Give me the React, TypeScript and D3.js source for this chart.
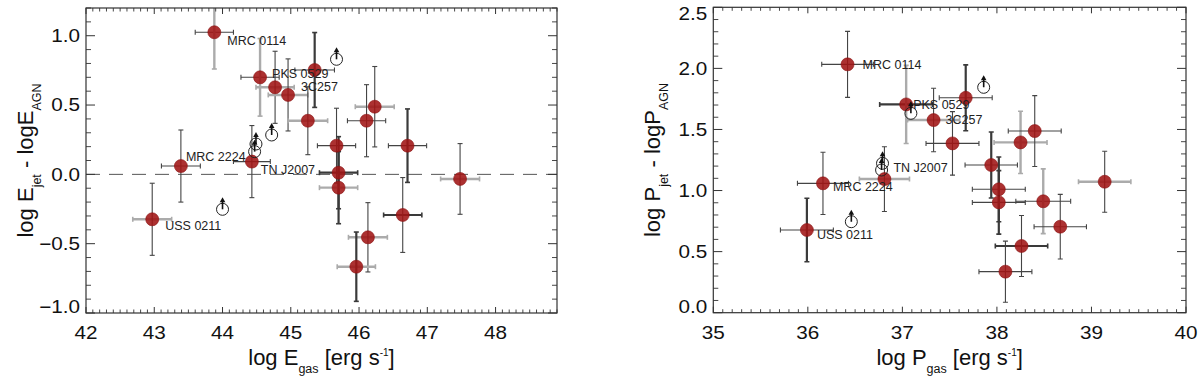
import React from 'react';
import * as d3 from 'd3';

// ---------- Left panel: log E_gas vs log E_jet - log E_AGN ----------
const leftX = [43.88, 44.55, 44.77, 44.96, 45.35, 45.25, 46.23, 46.11, 45.67, 45.70, 45.70, 46.71, 47.48, 46.64, 46.13, 45.96, 43.39, 44.43, 42.97];
const leftY = [1.025, 0.70, 0.628, 0.573, 0.753, 0.387, 0.488, 0.387, 0.207, 0.012, -0.096, 0.207, -0.033, -0.293, -0.454, -0.666, 0.06, 0.092, -0.324];
const leftXErr = [0.28, 0.28, 0.28, 0.29, 0.29, 0.29, 0.285, 0.28, 0.28, 0.28, 0.28, 0.28, 0.285, 0.28, 0.285, 0.28, 0.285, 0.27, 0.285];
const leftYErr = [0.265, 0.28, 0.26, 0.26, 0.27, 0.245, 0.29, 0.26, 0.27, 0.26, 0.26, 0.265, 0.255, 0.27, 0.25, 0.25, 0.26, 0.26, 0.26];
const leftLimX = [44.0, 44.49, 44.47, 44.72, 45.67];
const leftLimY = [-0.252, 0.219, 0.164, 0.284, 0.83];
const leftLabelNames = ['MRC 0114', 'PKS 0529', '3C257', 'MRC 2224', 'TN J2007', 'USS 0211'];
const leftLabelIdx = [0, 1, 3, 16, 17, 18];

// ---------- Right panel: log P_gas vs log P_jet - log P_AGN ----------
const rightX = [36.42, 37.04, 37.33, 37.67, 37.53, 37.94, 38.25, 38.40, 39.14, 38.02, 38.02, 38.49, 38.67, 38.26, 38.09, 36.16, 36.81, 35.99];
const rightY = [2.033, 1.705, 1.577, 1.759, 1.386, 1.209, 1.394, 1.487, 1.072, 1.01, 0.903, 0.912, 0.704, 0.546, 0.336, 1.059, 1.094, 0.677];
const rightXErr = [0.273, 0.28, 0.275, 0.28, 0.28, 0.277, 0.28, 0.28, 0.277, 0.28, 0.28, 0.29, 0.277, 0.277, 0.28, 0.27, 0.265, 0.28];
const rightYErr = [0.27, 0.32, 0.26, 0.27, 0.26, 0.27, 0.255, 0.29, 0.25, 0.265, 0.26, 0.265, 0.265, 0.25, 0.25, 0.255, 0.265, 0.26];
const rightLimX = [36.46, 36.79, 36.78, 37.09, 37.86];
const rightLimY = [0.745, 1.223, 1.168, 1.632, 1.845];
const rightLabelNames = ['MRC 0114', 'PKS 0529', '3C257', 'MRC 2224', 'TN J2007', 'USS 0211'];
const rightLabelIdx = [0, 1, 2, 15, 16, 17];

// ---------- styling (kept apart from data) ----------
const leftXTone = ['d', 'd', 'g', 'g', 'd', 'g', 'g', 'd', 'd', 'D', 'g', 'd', 'g', 'D', 'g', 'g', 'd', 'd', 'g'];
const leftYTone = ['g', 'g', 'd', 'd', 'D', 'd', 'd', 'd', 'd', 'D', 'D', 'D', 'd', 'd', 'd', 'D', 'd', 'd', 'd'];
const rightXTone = ['d', 'D', 'g', 'd', 'd', 'd', 'g', 'd', 'g', 'd', 'd', 'd', 'd', 'D', 'd', 'd', 'g', 'd'];
const rightYTone = ['d', 'g', 'd', 'D', 'd', 'D', 'g', 'd', 'd', 'D', 'D', 'g', 'd', 'd', 'd', 'd', 'd', 'D'];
const leftLabelOff = [[13, 8], [12, -4], [13, -8], [5, -9], [9, 8], [13, 6]];
const rightLabelOff = [[15, 0], [7, 0], [12, 0], [10, 3], [9, -11], [10, 5]];

const FONT = '"Liberation Sans", Arial, Helvetica, sans-serif';
const TONES: Record<string, { c: string; w: number }> = {
  d: { c: '#444', w: 1.1 },
  D: { c: '#3a3a3a', w: 2.2 },
  g: { c: '#ababab', w: 2.4 },
};

type Cfg = {
  id: string;
  left: number; right: number; top: number; bottom: number;
  xDomain: [number, number]; yDomain: [number, number];
  xs: number[]; ys: number[]; xe: number[]; ye: number[];
  xt: string[]; yt: string[];
  limX: number[]; limY: number[];
  labelNames: string[]; labelIdx: number[]; labelOff: number[][];
  sym: string; dashedZero: boolean;
};

function Panel({ c }: { c: Cfg }) {
  const x = d3.scaleLinear().domain(c.xDomain).range([c.left, c.right]);
  const y = d3.scaleLinear().domain(c.yDomain).range([c.bottom, c.top]);
  const [x0, x1] = c.xDomain;
  const [y0, y1] = c.yDomain;
  const xMajor = d3.range(Math.ceil(x0), Math.floor(x1 + 1e-9) + 1);
  const xMinor = d3.range(Math.ceil(x0 * 10 - 1e-9), Math.floor(x1 * 10 + 1e-9) + 1).filter(i => i % 10 !== 0).map(i => i / 10);
  const yMajor = d3.range(Math.ceil(y0 * 2 - 1e-9), Math.floor(y1 * 2 + 1e-9) + 1).map(i => i / 2);
  const yMinor = d3.range(Math.ceil(y0 * 10 - 1e-9), Math.floor(y1 * 10 + 1e-9) + 1).filter(i => i % 5 !== 0).map(i => i / 10);
  const axisC = '#333';
  const cx = (c.left + c.right) / 2;
  const cy = (c.top + c.bottom) / 2;
  const cap = 2.5;
  return (
    <g>
      <defs>
        <clipPath id={`clip-${c.id}`}>
          <rect x={c.left} y={c.top} width={c.right - c.left} height={c.bottom - c.top} />
        </clipPath>
      </defs>
      {c.dashedZero && (
        <line x1={c.left} x2={c.right} y1={y(0)} y2={y(0)} stroke="#555" strokeWidth={1} strokeDasharray="14 9" />
      )}
      <g clipPath={`url(#clip-${c.id})`}>
        {c.xs.map((v, i) => {
          const tx = TONES[c.xt[i]];
          const ty = TONES[c.yt[i]];
          const px = x(v), py = y(c.ys[i]);
          const xa = x(v - c.xe[i]), xb = x(v + c.xe[i]);
          const ya = y(c.ys[i] - c.ye[i]), yb = y(c.ys[i] + c.ye[i]);
          return (
            <g key={i}>
              <g stroke={tx.c} strokeWidth={tx.w}>
                <line x1={xa} x2={xb} y1={py} y2={py} />
                <line x1={xa} x2={xa} y1={py - cap} y2={py + cap} strokeWidth={Math.min(tx.w, 1.6)} />
                <line x1={xb} x2={xb} y1={py - cap} y2={py + cap} strokeWidth={Math.min(tx.w, 1.6)} />
              </g>
              <g stroke={ty.c} strokeWidth={ty.w}>
                <line x1={px} x2={px} y1={ya} y2={yb} />
                <line x1={px - cap} x2={px + cap} y1={ya} y2={ya} strokeWidth={Math.min(ty.w, 1.6)} />
                <line x1={px - cap} x2={px + cap} y1={yb} y2={yb} strokeWidth={Math.min(ty.w, 1.6)} />
              </g>
            </g>
          );
        })}
        {c.xs.map((v, i) => (
          <circle key={`p${i}`} cx={x(v)} cy={y(c.ys[i])} r={6.5} fill="#a01414" fillOpacity={0.88} stroke="#8a1010" strokeWidth={0.6} />
        ))}
        {c.limX.map((v, i) => {
          const px = x(v), py = y(c.limY[i]);
          return (
            <g key={`l${i}`}>
              <circle cx={px} cy={py} r={6} fill="none" stroke="#222" strokeWidth={1} />
              <line x1={px} x2={px} y1={py} y2={py - 8} stroke="#111" strokeWidth={1.6} />
              <path d={`M${px - 2.8},${py - 7} L${px + 2.8},${py - 7} L${px},${py - 12} Z`} fill="#111" />
            </g>
          );
        })}
      </g>
      {c.labelNames.map((name, k) => {
        const i = c.labelIdx[k];
        const [dx, dy] = c.labelOff[k];
        return (
          <text key={`t${k}`} x={x(c.xs[i]) + dx} y={y(c.ys[i]) + dy} dy="0.35em" fontFamily={FONT} fontSize={12.5} fill="#222">{name}</text>
        );
      })}
      {/* frame */}
      <rect x={c.left} y={c.top} width={c.right - c.left} height={c.bottom - c.top} fill="none" stroke={axisC} strokeWidth={1.2} />
      {/* x ticks */}
      {xMajor.map(v => (
        <g key={`xm${v}`} stroke={axisC} strokeWidth={1}>
          <line x1={x(v)} x2={x(v)} y1={c.bottom} y2={c.bottom - 6} />
          <line x1={x(v)} x2={x(v)} y1={c.top} y2={c.top + 6} />
        </g>
      ))}
      {xMinor.map(v => (
        <g key={`xn${v}`} stroke={axisC} strokeWidth={0.9}>
          <line x1={x(v)} x2={x(v)} y1={c.bottom} y2={c.bottom - 3.5} />
          <line x1={x(v)} x2={x(v)} y1={c.top} y2={c.top + 3.5} />
        </g>
      ))}
      {yMajor.map(v => (
        <g key={`ym${v}`} stroke={axisC} strokeWidth={1}>
          <line x1={c.left} x2={c.left + 9} y1={y(v)} y2={y(v)} />
          <line x1={c.right} x2={c.right - 9} y1={y(v)} y2={y(v)} />
        </g>
      ))}
      {yMinor.map(v => (
        <g key={`yn${v}`} stroke={axisC} strokeWidth={0.9}>
          <line x1={c.left} x2={c.left + 5} y1={y(v)} y2={y(v)} />
          <line x1={c.right} x2={c.right - 5} y1={y(v)} y2={y(v)} />
        </g>
      ))}
      {/* tick labels */}
      {xMajor.map(v => (
        <text key={`xl${v}`} transform={`translate(${x(v)},${c.bottom + 26}) scale(1.15,1)`} textAnchor="middle" fontFamily={FONT} fontSize={18} fill="#111">{d3.format('d')(v)}</text>
      ))}
      {yMajor.map(v => {
        const py = Math.max(c.top + 6, Math.min(c.bottom - 6, y(v)));
        return (
          <text key={`yl${v}`} transform={`translate(${c.left - 6},${py}) scale(1.15,1)`} dy="0.35em" textAnchor="end" fontFamily={FONT} fontSize={18} fill="#111">{d3.format('.1f')(v)}</text>
        );
      })}
      {/* axis titles */}
      <text x={cx} y={365} textAnchor="middle" fontFamily={FONT} fontSize={22} fill="#111">
        <tspan>{`log ${c.sym}`}</tspan>
        <tspan dy={8} fontSize={12.5}>gas</tspan>
        <tspan dy={-8}>{' [erg s'}</tspan>
        <tspan dy={-9} fontSize={10}>-1</tspan>
        <tspan dy={9}>]</tspan>
      </text>
      <text transform={`translate(${c.left - 53},${cy}) rotate(-90)`} textAnchor="middle" fontFamily={FONT} fontSize={22} fill="#111">
        <tspan>{`log ${c.sym}`}</tspan>
        <tspan dy={8} fontSize={12.5}>jet</tspan>
        <tspan dy={-8}>{` - log${c.sym}`}</tspan>
        <tspan dy={8} fontSize={12.5}>AGN</tspan>
      </text>
    </g>
  );
}

const leftCfg: Cfg = {
  id: 'L', left: 86, right: 557, top: 8, bottom: 313,
  xDomain: [42, 48.9], yDomain: [-1, 1.2],
  xs: leftX, ys: leftY, xe: leftXErr, ye: leftYErr, xt: leftXTone, yt: leftYTone,
  limX: leftLimX, limY: leftLimY,
  labelNames: leftLabelNames, labelIdx: leftLabelIdx, labelOff: leftLabelOff,
  sym: 'E', dashedZero: true,
};

const rightCfg: Cfg = {
  id: 'R', left: 713.3, right: 1186, top: 7.3, bottom: 312.7,
  xDomain: [35, 40], yDomain: [0, 2.5],
  xs: rightX, ys: rightY, xe: rightXErr, ye: rightYErr, xt: rightXTone, yt: rightYTone,
  limX: rightLimX, limY: rightLimY,
  labelNames: rightLabelNames, labelIdx: rightLabelIdx, labelOff: rightLabelOff,
  sym: 'P', dashedZero: false,
};

export default function App() {
  return (
    <svg width={1200} height={386} viewBox="0 0 1200 386" style={{ position: 'absolute', left: 0, top: 0, background: '#fff' }}>
      <rect x={0} y={0} width={1200} height={386} fill="#fff" />
      <Panel c={leftCfg} />
      <Panel c={rightCfg} />
    </svg>
  );
}
